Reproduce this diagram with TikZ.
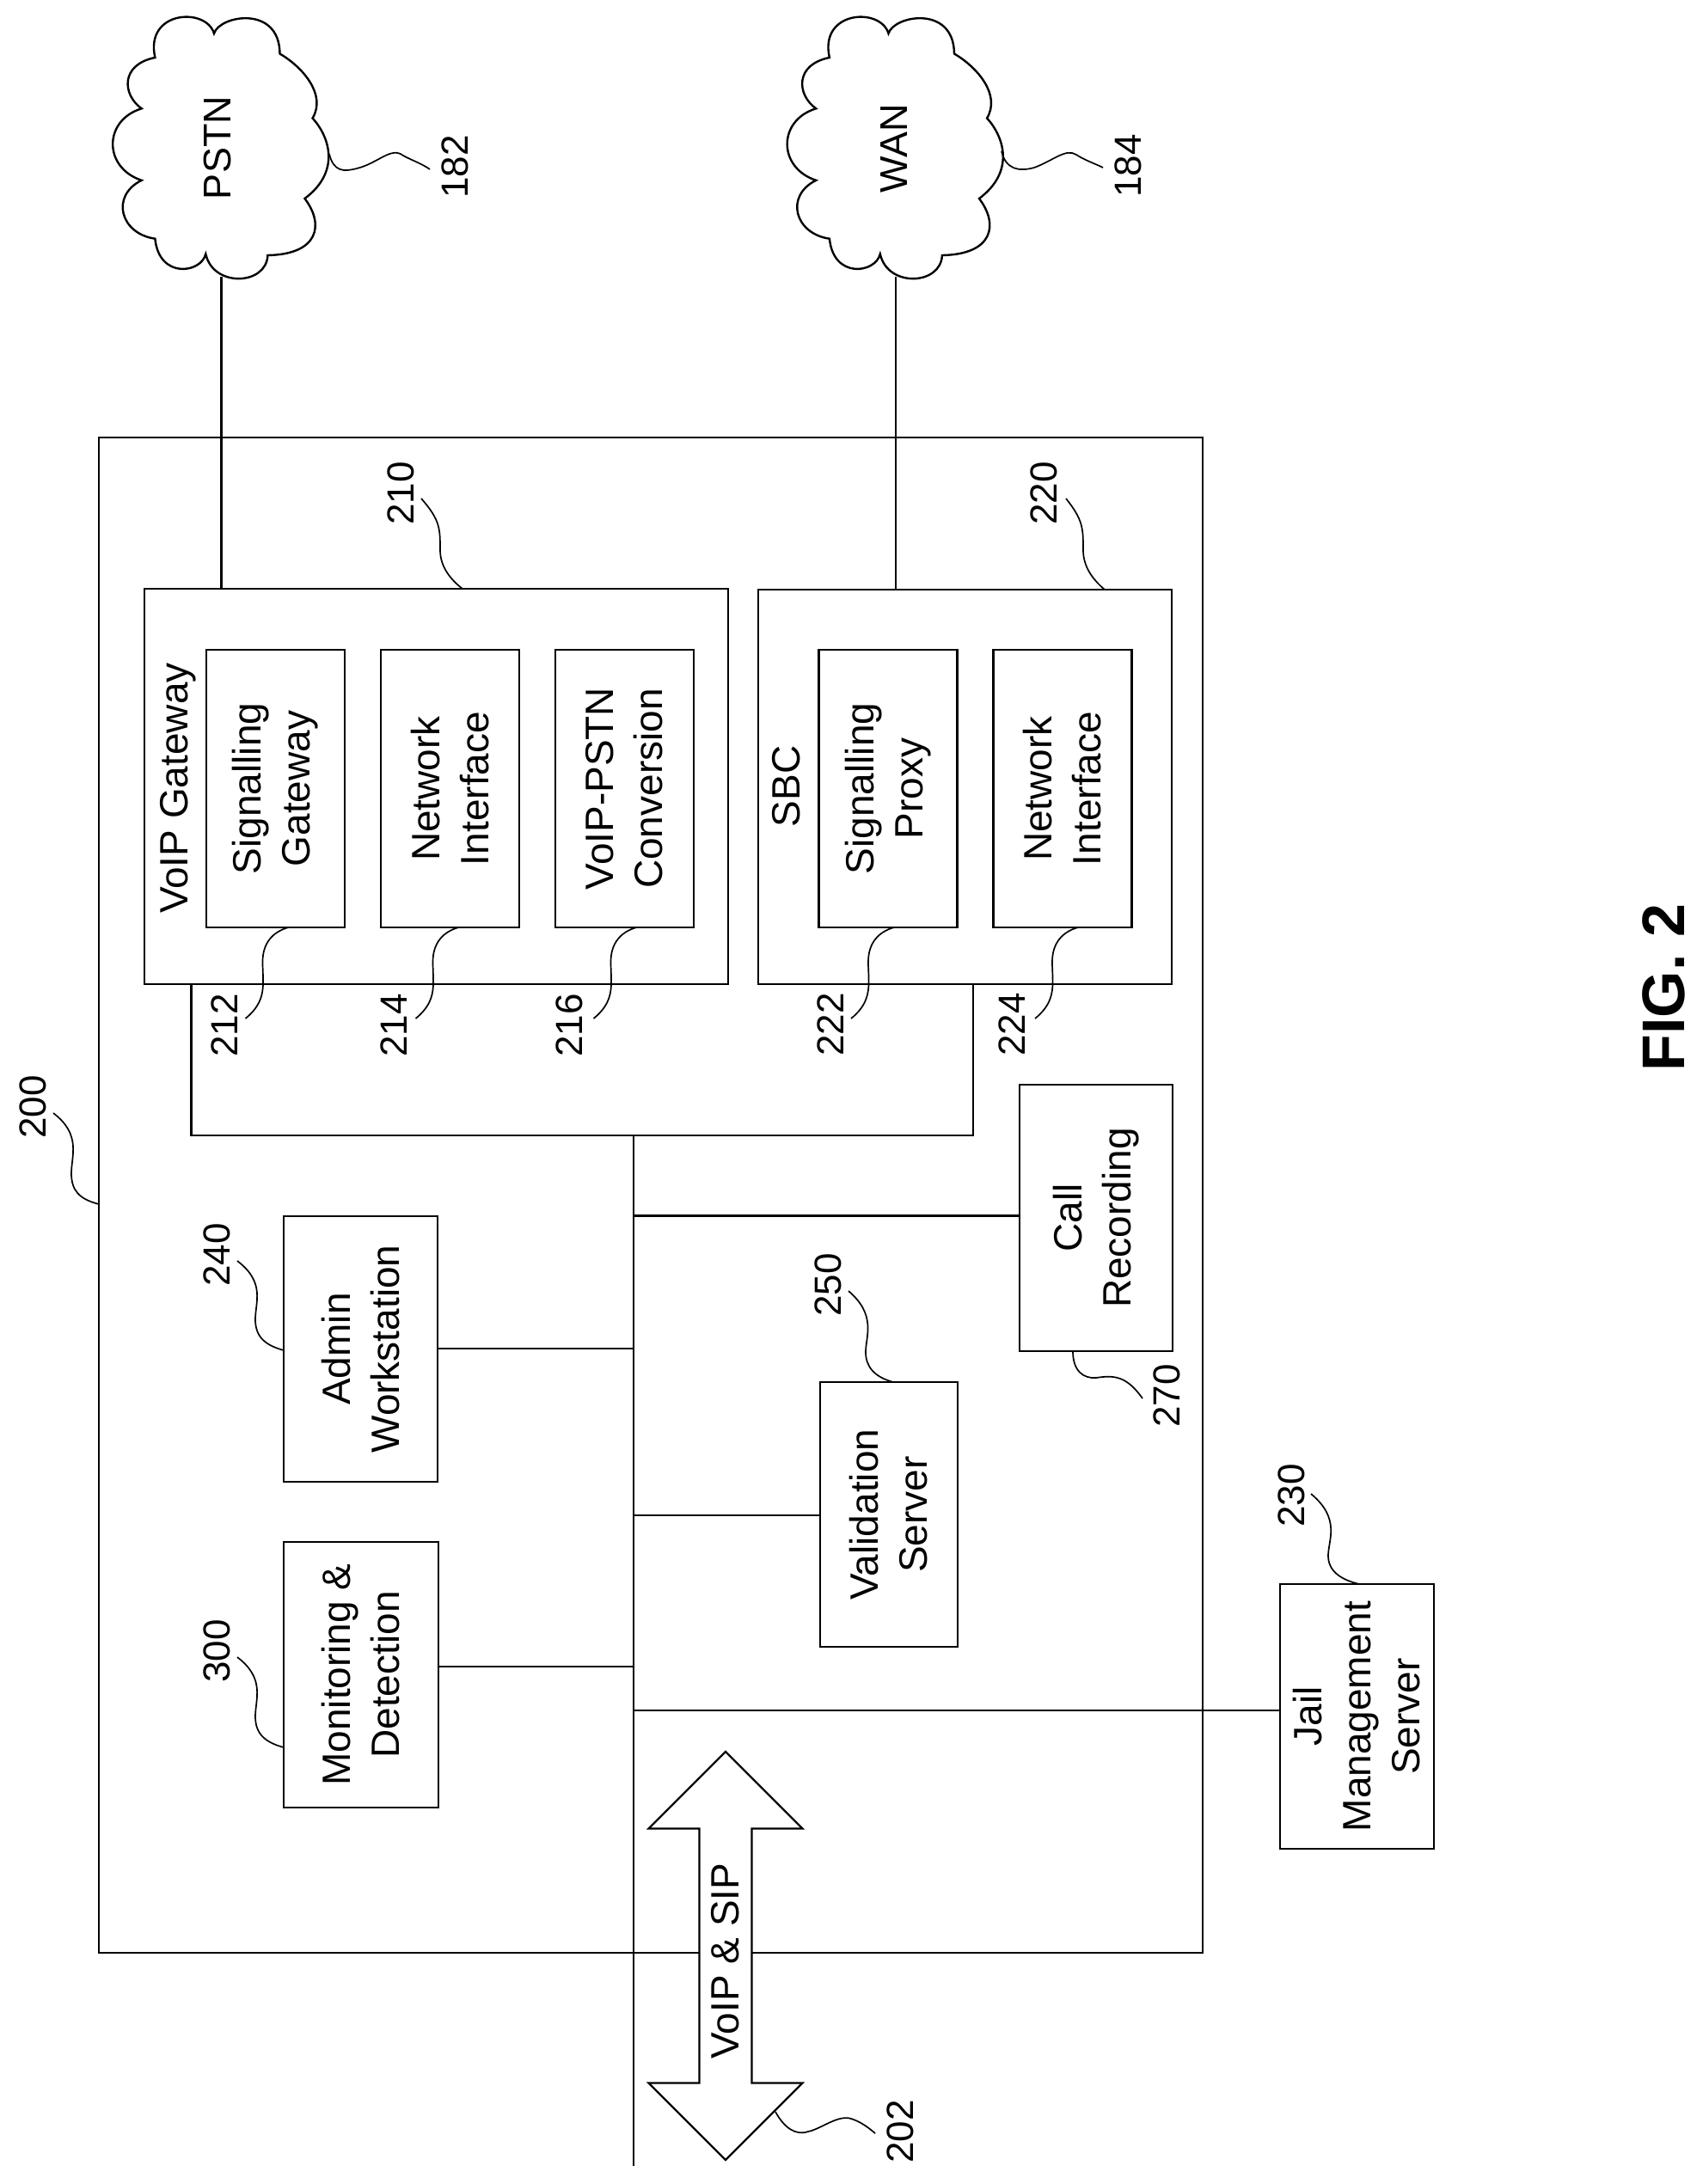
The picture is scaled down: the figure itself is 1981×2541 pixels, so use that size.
\documentclass[tikz,border=0pt]{standalone}
\usepackage{fontspec}
\setmainfont{Liberation Sans}
\usetikzlibrary{shapes.arrows}
\newcommand{\boxfont}{\fontsize{46}{57}\selectfont}
\newcommand{\numfont}{\fontsize{44}{50}\selectfont}
\tikzset{
	every path/.style={line width=2.4pt},
	container/.style={rectangle,draw,inner sep=0pt,outer sep=0pt},
	block/.style={rectangle,draw,rotate=90,align=center,inner sep=0pt,outer sep=0pt,font=\boxfont},
	caption/.style={rotate=90,inner sep=0pt,font=\boxfont},
	refnum/.style={rotate=90,inner sep=0pt,font=\numfont},
	leader/.style={line width=1.7pt},
	netcloud/.pic={
		\draw (249,39) .. controls (255,18) and (325,5) .. (325.5,62.5)
			.. controls (352,78) and (380,110) .. (363.6,137.5)
			.. controls (384,160) and (396,200) .. (354.5,231)
			.. controls (378,262) and (370,296) .. (311.4,297)
			.. controls (310,332) and (248,335) .. (239.3,295.5)
			.. controls (234,318) and (185,325) .. (180.4,277.7)
			.. controls (140,272) and (128,228) .. (164.7,209.8)
			.. controls (120,195) and (120,140) .. (164.7,126.3)
			.. controls (142,110) and (140,75) .. (180.4,67)
			.. controls (168,12) and (240,8) .. (249,39) -- cycle;
		\coordinate (-foot) at (257.5,322);
	},
}
\begin{document}
\begin{tikzpicture}[x=1pt,y=-1pt]
	\useasboundingbox (0,0) rectangle (1981,2541);

	\pic (pstn_cloud) at (0,0)   {netcloud};
	\pic (wan_cloud)  at (784.5,0) {netcloud};
	\node at (253, 172) [refnum,font=\fontsize{45}{50}\selectfont] (pstn) {PSTN};
	\node at (1040,173) [refnum,font=\fontsize{45}{50}\selectfont] (wan)  {WAN};

	\node at (757,  1390.5) [container,minimum width=1284pt,minimum height=1763pt] (facility) {};
	\node at (507.5, 915)   [container,minimum width=679pt,minimum height=460pt]   (gateway)  {};
	\node at (1122.5,915.5) [container,minimum width=481pt,minimum height=459pt]   (sbc)      {};
	\node at (207,  917) [caption] (gateway_title) {VoIP Gateway};
	\node at (915,  915) [caption] (sbc_title)     {SBC};

	\node at (320.5, 917.5) [block,minimum width=323pt,minimum height=161pt] (signalling_gateway) {Signalling\\Gateway};
	\node at (523.5, 917.5) [block,minimum width=323pt,minimum height=161pt] (gateway_interface)  {Network\\Interface};
	\node at (726.5, 917.5) [block,minimum width=323pt,minimum height=161pt] (conversion)         {VoIP-PSTN\\Conversion};
	\node at (1033,  917.5) [block,minimum width=323pt,minimum height=161pt] (signalling_proxy)   {Signalling\\Proxy};
	\node at (1236,  917.5) [block,minimum width=323pt,minimum height=161pt] (sbc_interface)      {Network\\Interface};

	\node at (419.5, 1569.5) [block,minimum width=309pt,minimum height=179pt] (admin)      {Admin\\Workstation};
	\node at (420,   1948.5) [block,minimum width=309pt,minimum height=180pt] (monitoring) {Monitoring \&\\Detection};
	\node at (1034,  1762)   [block,minimum width=308pt,minimum height=160pt] (validation) {Validation\\Server};
	\node at (1275,  1417)   [block,minimum width=310pt,minimum height=178pt] (recording)  {Call\\Recording};
	\node at (1578.5,1997)   [block,minimum width=308pt,minimum height=179pt] (jail)       {Jail\\Management\\Server};

	% bus and its taps
	\coordinate (bus_top)    at (737,1321);
	\coordinate (bus_bottom) at (737,2520);
	\coordinate (tap_call)       at (737,1414.5);
	\coordinate (tap_admin)      at (737,1569);
	\coordinate (tap_validation) at (737,1763);
	\coordinate (tap_monitoring) at (737,1939);
	\coordinate (tap_jail)       at (737,1990);

	\draw (pstn_cloud-foot) -- (pstn_cloud-foot |- gateway.north);
	\draw (wan_cloud-foot)  -- (wan_cloud-foot  |- sbc.north);
	\draw ([xshift=54.5pt]gateway.south west) |- (bus_top) -| ([xshift=-231pt]sbc.south east);
	\draw (bus_top) -- (bus_bottom);
	\draw (tap_call)       -- (tap_call -| recording.north);
	\draw (tap_admin)      -- (tap_admin -| admin.south);
	\draw (tap_validation) -- (tap_validation -| validation.north);
	\draw (tap_monitoring) -- (tap_monitoring -| monitoring.south);
	\draw (tap_jail)       -- (tap_jail -| jail.north);

	\node at (844,2275.5) [double arrow,draw,fill=white,rotate=90,minimum height=475pt,minimum width=178pt,
		double arrow head extend=59pt,double arrow tip angle=90,inner xsep=0pt,inner ysep=13pt,outer sep=0pt,font=\boxfont] (voip_sip) {VoIP \& SIP\hspace*{12pt}};

	% reference numbers
	\node at (529, 194)  [refnum] (num_182) {182};
	\node at (1312,193)  [refnum] (num_184) {184};
	\node at (38,  1288) [refnum] (num_200) {200};
	\node at (1047,2480) [refnum] (num_202) {202};
	\node at (466, 574)  [refnum] (num_210) {210};
	\node at (1214,574)  [refnum] (num_220) {220};
	\node at (261, 1193) [refnum] (num_212) {212};
	\node at (458, 1193) [refnum] (num_214) {214};
	\node at (662, 1193) [refnum] (num_216) {216};
	\node at (966, 1192) [refnum] (num_222) {222};
	\node at (1177,1192) [refnum] (num_224) {224};
	\node at (1502,1740) [refnum] (num_230) {230};
	\node at (252, 1460) [refnum] (num_240) {240};
	\node at (963, 1495) [refnum] (num_250) {250};
	\node at (1357,1624) [refnum] (num_270) {270};
	\node at (252, 1921) [refnum] (num_300) {300};

	\node at (1935.5,1149) [rotate=90,inner sep=0pt,font=\fontsize{70}{80}\selectfont\bfseries] (fig_title) {FIG. 2};

	% leaders
	\foreach \block/\dx in {signalling_gateway/15,gateway_interface/10,conversion/14,signalling_proxy/7,sbc_interface/18}{
		\begin{scope}[shift={(\block.west)},xshift=\dx pt]
			\draw[leader] (0,0) .. controls (-18,5) and (-30,18) .. (-30,40)
				.. controls (-30,65) and (-24,85) .. (-50,106);
		\end{scope}
	}
	\coordinate (lead_182) at (383,179);
	\coordinate (lead_184) at (1165,176);
	\coordinate (lead_200) at (115,1401);
	\coordinate (lead_202) at (902,2457);
	\coordinate (lead_210) at (538,685);
	\coordinate (lead_220) at (1285,686);
	\coordinate (lead_230) at (1581,1843);
	\coordinate (lead_240) at (330,1571);
	\coordinate (lead_250) at (1039,1608);
	\coordinate (lead_270) at (1248,1572);
	\coordinate (lead_300) at (330,2033);

	\draw[leader] (lead_182) .. controls (388,200) and (400,200) .. (415,196) .. controls (440,190) and (455,170) .. (469,181) .. controls (480,187) and (490,190) .. (500,197);
	\draw[leader] (lead_184) .. controls (1170,197) and (1185,200) .. (1203,195) .. controls (1225,187) and (1240,172) .. (1252,180) .. controls (1263,187) and (1273,190) .. (1283,195);
	\draw[leader] (lead_200) .. controls (92,1395) and (83,1385) .. (83,1365) .. controls (83,1345) and (95,1320) .. (62,1295);
	\draw[leader] (lead_240) .. controls (308,1565) and (297,1555) .. (297,1535) .. controls (297,1515) and (309,1492) .. (276,1467);
	\draw[leader] (lead_300) .. controls (308,2027) and (297,2017) .. (297,1997) .. controls (297,1977) and (309,1953) .. (276,1928);
	\draw[leader] (lead_250) .. controls (1017,1602) and (1007,1590) .. (1007,1573) .. controls (1007,1555) and (1020,1530) .. (987,1502);
	\draw[leader] (lead_230) .. controls (1560,1838) and (1545,1828) .. (1545,1810) .. controls (1545,1792) and (1560,1767) .. (1525,1738);
	\draw[leader] (lead_270) .. controls (1248,1595) and (1260,1604) .. (1275,1603) .. controls (1295,1600) and (1310,1600) .. (1329,1627);
	\draw[leader] (lead_210) .. controls (525,675) and (512,660) .. (512,640) .. controls (512,615) and (512,605) .. (490,580);
	\draw[leader] (lead_220) .. controls (1272,675) and (1260,660) .. (1260,640) .. controls (1260,615) and (1260,605) .. (1240,580);
	\draw[leader] (lead_202) .. controls (912,2475) and (925,2485) .. (940,2480) .. controls (955,2477) and (975,2460) .. (990,2465) .. controls (1000,2468) and (1010,2475) .. (1018,2482);
\end{tikzpicture}
\end{document}
